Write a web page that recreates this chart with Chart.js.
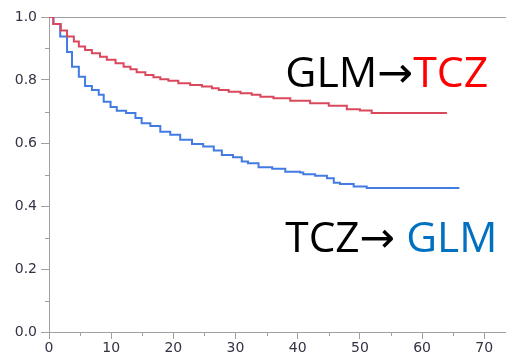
<!DOCTYPE html>
<html>
<head>
<meta charset="utf-8">
<script src="https://cdn.jsdelivr.net/npm/chart.js@4/dist/chart.umd.min.js"></script>
<style>
  html, body { margin: 0; padding: 0; background: #fff; }
  #wrap { width: 506px; height: 364px; position: relative; }
</style>
</head>
<body>
<div id="wrap"><canvas id="km"></canvas></div>
<script>
// Curva GLM -> TCZ (tiempo, supervivencia tras cada escalón)
const tiemposRojo = [0, 0.7, 1.9, 2.9, 4.0, 4.8, 5.8, 6.9, 8.2, 9.3, 10.7, 12.0, 13.1, 14.1, 15.5, 16.8, 17.9, 19.2, 20.8, 22.7, 24.6, 26.2, 27.3, 28.9, 30.8, 32.6, 34.0, 36.1, 38.8, 42.0, 45.0, 47.9, 50.0, 51.9, 64.0];
const supervRojo  = [1.0, 0.978, 0.957, 0.938, 0.922, 0.906, 0.895, 0.885, 0.874, 0.864, 0.853, 0.842, 0.834, 0.825, 0.816, 0.809, 0.802, 0.798, 0.790, 0.784, 0.779, 0.774, 0.768, 0.763, 0.758, 0.753, 0.747, 0.742, 0.734, 0.726, 0.718, 0.707, 0.703, 0.695, 0.695];

// Curva TCZ -> GLM
const tiemposAzul = [0, 0.7, 1.8, 2.9, 3.7, 4.8, 5.8, 6.9, 8.0, 8.8, 9.9, 10.9, 12.4, 13.9, 14.9, 16.3, 17.9, 19.5, 21.1, 23.0, 24.8, 26.5, 27.8, 29.6, 31.0, 32.0, 33.7, 35.9, 38.0, 40.4, 40.9, 42.8, 44.7, 45.8, 46.8, 49.0, 51.1, 66.0];
const supervAzul  = [1.0, 0.978, 0.938, 0.889, 0.842, 0.810, 0.781, 0.768, 0.753, 0.731, 0.714, 0.702, 0.695, 0.679, 0.663, 0.654, 0.636, 0.626, 0.610, 0.597, 0.589, 0.576, 0.562, 0.555, 0.541, 0.536, 0.523, 0.518, 0.509, 0.506, 0.501, 0.496, 0.488, 0.474, 0.470, 0.462, 0.457, 0.457];

// Marcas secundarias de los ejes
const marcasMenoresX = [5, 15, 25, 35, 45, 55, 65];
const marcasMenoresY = [0.1, 0.3, 0.5, 0.7, 0.9];

// Rótulos de cada curva (posición en unidades de datos)
const rotulos = [
  { x: 38.0, y: 0.778, partes: [['GLM\u2192', '#000000'], ['TCZ', '#ff0000']], ancho: 203 },
  { x: 38.0, y: 0.255, partes: [['TCZ\u2192 ', '#000000'], ['GLM', '#0070c0']], ancho: 212 }
];

const GRIS = '#a0a0a0';

function puntos(ts, ss) {
  return ts.map((t, i) => ({ x: t, y: ss[i] }));
}

// Dibuja las marcas cortas intermedias
const pluginMarcas = {
  id: 'marcasMenores',
  afterDraw(chart) {
    const ctx = chart.ctx;
    const sx = chart.scales.x, sy = chart.scales.y;
    ctx.save();
    ctx.strokeStyle = GRIS;
    ctx.lineWidth = 1;
    ctx.beginPath();
    marcasMenoresY.forEach(v => {
      const py = Math.round(sy.getPixelForValue(v)) + 0.5;
      ctx.moveTo(sx.left - 4, py);
      ctx.lineTo(sx.left, py);
    });
    marcasMenoresX.forEach(v => {
      const px = Math.round(sx.getPixelForValue(v)) + 0.5;
      ctx.moveTo(px, sy.bottom);
      ctx.lineTo(px, sy.bottom + 4);
    });
    ctx.stroke();
    ctx.restore();
  }
};

// Texto grande de cada grupo
const pluginRotulos = {
  id: 'rotulos',
  afterDraw(chart) {
    const ctx = chart.ctx;
    const sx = chart.scales.x, sy = chart.scales.y;
    ctx.save();
    ctx.font = '42px "Open Sans", "DejaVu Sans", sans-serif';
    ctx.textBaseline = 'alphabetic';
    rotulos.forEach(r => {
      const x0 = sx.getPixelForValue(r.x);
      const y0 = sy.getPixelForValue(r.y);
      const total = r.partes.reduce((a, p) => a + ctx.measureText(p[0]).width, 0);
      const k = r.ancho / total;
      ctx.save();
      ctx.translate(x0, y0);
      ctx.scale(k, 1);
      let cx = 0;
      r.partes.forEach(p => {
        ctx.fillStyle = p[1];
        ctx.fillText(p[0], cx, 0);
        cx += ctx.measureText(p[0]).width;
      });
      ctx.restore();
    });
    ctx.restore();
  }
};

new Chart(document.getElementById('km'), {
  type: 'line',
  data: {
    datasets: [
      {
        label: 'GLM\u2192TCZ',
        data: puntos(tiemposRojo, supervRojo),
        borderColor: 'rgb(218, 72, 92)',
        borderWidth: 2,
        stepped: 'before',
        pointRadius: 0,
        fill: false
      },
      {
        label: 'TCZ\u2192GLM',
        data: puntos(tiemposAzul, supervAzul),
        borderColor: 'rgb(66, 124, 226)',
        borderWidth: 2,
        stepped: 'before',
        pointRadius: 0,
        fill: false
      }
    ]
  },
  options: {
    responsive: true,
    maintainAspectRatio: false,
    animation: false,
    layout: { padding: { top: 17, right: 0, left: 0, bottom: 0 } },
    plugins: {
      legend: { display: false },
      tooltip: { enabled: false }
    },
    scales: {
      x: {
        type: 'linear',
        min: 0,
        max: 73.5,
        afterFit: function(scale) { scale.height = 32; },
        border: { color: GRIS, width: 1 },
        grid: { drawOnChartArea: false, color: GRIS, tickLength: 7 },
        ticks: {
          stepSize: 10,
          includeBounds: false,
          maxRotation: 0,
          padding: 1,
          color: '#333344',
          font: { family: 'DejaVu Sans', size: 14 }
        }
      },
      y: {
        min: 0,
        max: 1,
        afterFit: function(scale) { scale.width = 49; },
        border: { color: GRIS, width: 1 },
        grid: {
          color: function(context) {
            return Math.abs(context.tick.value - 1) < 1e-6 ? GRIS : 'rgba(0,0,0,0)';
          },
          tickColor: GRIS,
          tickLength: 8
        },
        ticks: {
          stepSize: 0.2,
          padding: 4,
          color: '#333344',
          font: { family: 'DejaVu Sans', size: 14 },
          callback: function(value) {
            return value.toFixed(1);
          }
        }
      }
    }
  },
  plugins: [pluginMarcas, pluginRotulos]
});
</script>
</body>
</html>
